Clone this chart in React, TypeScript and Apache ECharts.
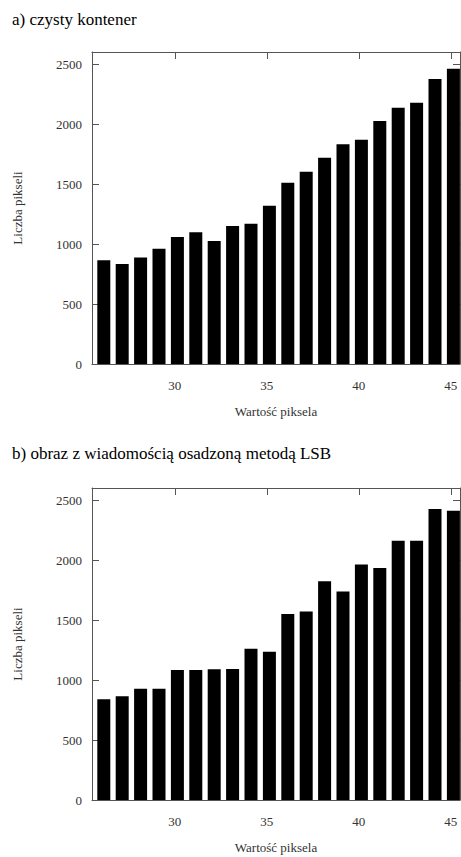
import React, { useEffect, useRef } from "react";
import * as echarts from "echarts";

const categories = [26, 27, 28, 29, 30, 31, 32, 33, 34, 35, 36, 37, 38, 39, 40, 41, 42, 43, 44, 45];
const cleanValues = [865, 833, 887, 960, 1058, 1097, 1025, 1150, 1169, 1319, 1510, 1602, 1718, 1831, 1868, 2025, 2136, 2178, 2375, 2460];
const lsbValues = [840, 864, 928, 928, 1083, 1083, 1089, 1091, 1260, 1236, 1549, 1571, 1823, 1737, 1962, 1934, 2161, 2161, 2425, 2411];
const labeledValues = [30, 35, 40, 45];
const titles = ["a) czysty kontener", "b) obraz z wiadomością osadzoną metodą LSB"];
const xName = "Wartość piksela";
const yName = "Liczba pikseli";

const FRAME = "#555";
const LABEL = "#333";
const SERIF = "serif";

export default function App() {
  const ref = useRef<HTMLDivElement>(null);
  useEffect(() => {
    if (!ref.current) return;
    const chart = echarts.init(ref.current, undefined, { renderer: "svg" });
    const gridTops = [52, 488];
    const showCat = (_i: number, v: any) => labeledValues.indexOf(Number(v)) >= 0;
    const catStrs = categories.map(String);

    const xAxes: any[] = [];
    const yAxes: any[] = [];
    const series: any[] = [];
    const datasets = [cleanValues, lsbValues];

    gridTops.forEach((_t, g) => {
      xAxes.push({
        type: "category",
        gridIndex: g,
        position: "bottom",
        data: catStrs,
        boundaryGap: true,
        axisLine: { show: true, onZero: false, lineStyle: { color: FRAME, width: 1 } },
        axisTick: { show: true, inside: true, length: 7, alignWithLabel: true, interval: showCat, lineStyle: { color: FRAME } },
        axisLabel: { interval: showCat, margin: 15, fontFamily: SERIF, fontSize: 13, color: LABEL },
        splitLine: { show: false },
        name: xName,
        nameLocation: "middle",
        nameGap: 41,
        nameTextStyle: { fontFamily: SERIF, fontSize: 13, color: LABEL },
      });
      const barXAxis = xAxes.length - 1;
      xAxes.push({
        type: "category",
        gridIndex: g,
        position: "top",
        data: catStrs,
        boundaryGap: true,
        axisLine: { show: true, onZero: false, lineStyle: { color: FRAME, width: 1 } },
        axisTick: { show: true, inside: true, length: 7, alignWithLabel: true, interval: showCat, lineStyle: { color: FRAME } },
        axisLabel: { show: false },
        splitLine: { show: false },
      });

      yAxes.push({
        type: "value",
        gridIndex: g,
        position: "left",
        min: 0,
        max: 2600,
        interval: 500,
        axisLine: { show: true, onZero: false, lineStyle: { color: FRAME, width: 1 } },
        axisTick: { show: true, inside: true, length: 7, lineStyle: { color: FRAME } },
        axisLabel: {
          margin: 10,
          fontFamily: SERIF,
          fontSize: 13,
          color: LABEL,
          formatter: (v: number) => (v % 500 === 0 ? String(v) : ""),
        },
        splitLine: { show: false },
        name: yName,
        nameLocation: "middle",
        nameRotate: 90,
        nameGap: 68,
        nameTextStyle: { fontFamily: SERIF, fontSize: 13, color: LABEL },
      });
      const barYAxis = yAxes.length - 1;
      yAxes.push({
        type: "value",
        gridIndex: g,
        position: "right",
        min: 0,
        max: 2600,
        interval: 500,
        axisLine: { show: true, onZero: false, lineStyle: { color: FRAME, width: 1 } },
        axisTick: { show: true, inside: true, length: 7, lineStyle: { color: FRAME } },
        axisLabel: { show: false },
        splitLine: { show: false },
      });

      // empty spacer series: shifts the real bars slightly right of the ticks, as in the reference
      series.push({
        type: "bar",
        name: "spacer" + g,
        xAxisIndex: barXAxis,
        yAxisIndex: barYAxis,
        barWidth: 13,
        barGap: "-60%",
        data: [],
        silent: true,
      });
      series.push({
        type: "bar",
        name: "values" + g,
        xAxisIndex: barXAxis,
        yAxisIndex: barYAxis,
        barWidth: 13,
        barGap: "-60%",
        itemStyle: { color: "#000" },
        data: datasets[g],
      });
    });

    chart.setOption({
      animation: false,
      backgroundColor: "#fff",
      grid: gridTops.map((t) => ({
        left: 92,
        top: t,
        width: 368,
        height: 312,
        containLabel: false,
      })),
      xAxis: xAxes,
      yAxis: yAxes,
      series,
      graphic: [
        {
          type: "text",
          left: 12,
          top: 11,
          style: { text: titles[0], fontFamily: "serif", fontSize: 17, fill: "#000" },
        },
        {
          type: "text",
          left: 12,
          top: 445,
          style: { text: titles[1], fontFamily: "serif", fontSize: 17, fill: "#000" },
        },
      ],
    });
    return () => chart.dispose();
  }, []);
  return (
    <div
      ref={ref}
      style={{ position: "fixed", left: 0, top: 0, width: 461, height: 857, background: "#fff" }}
    />
  );
}
